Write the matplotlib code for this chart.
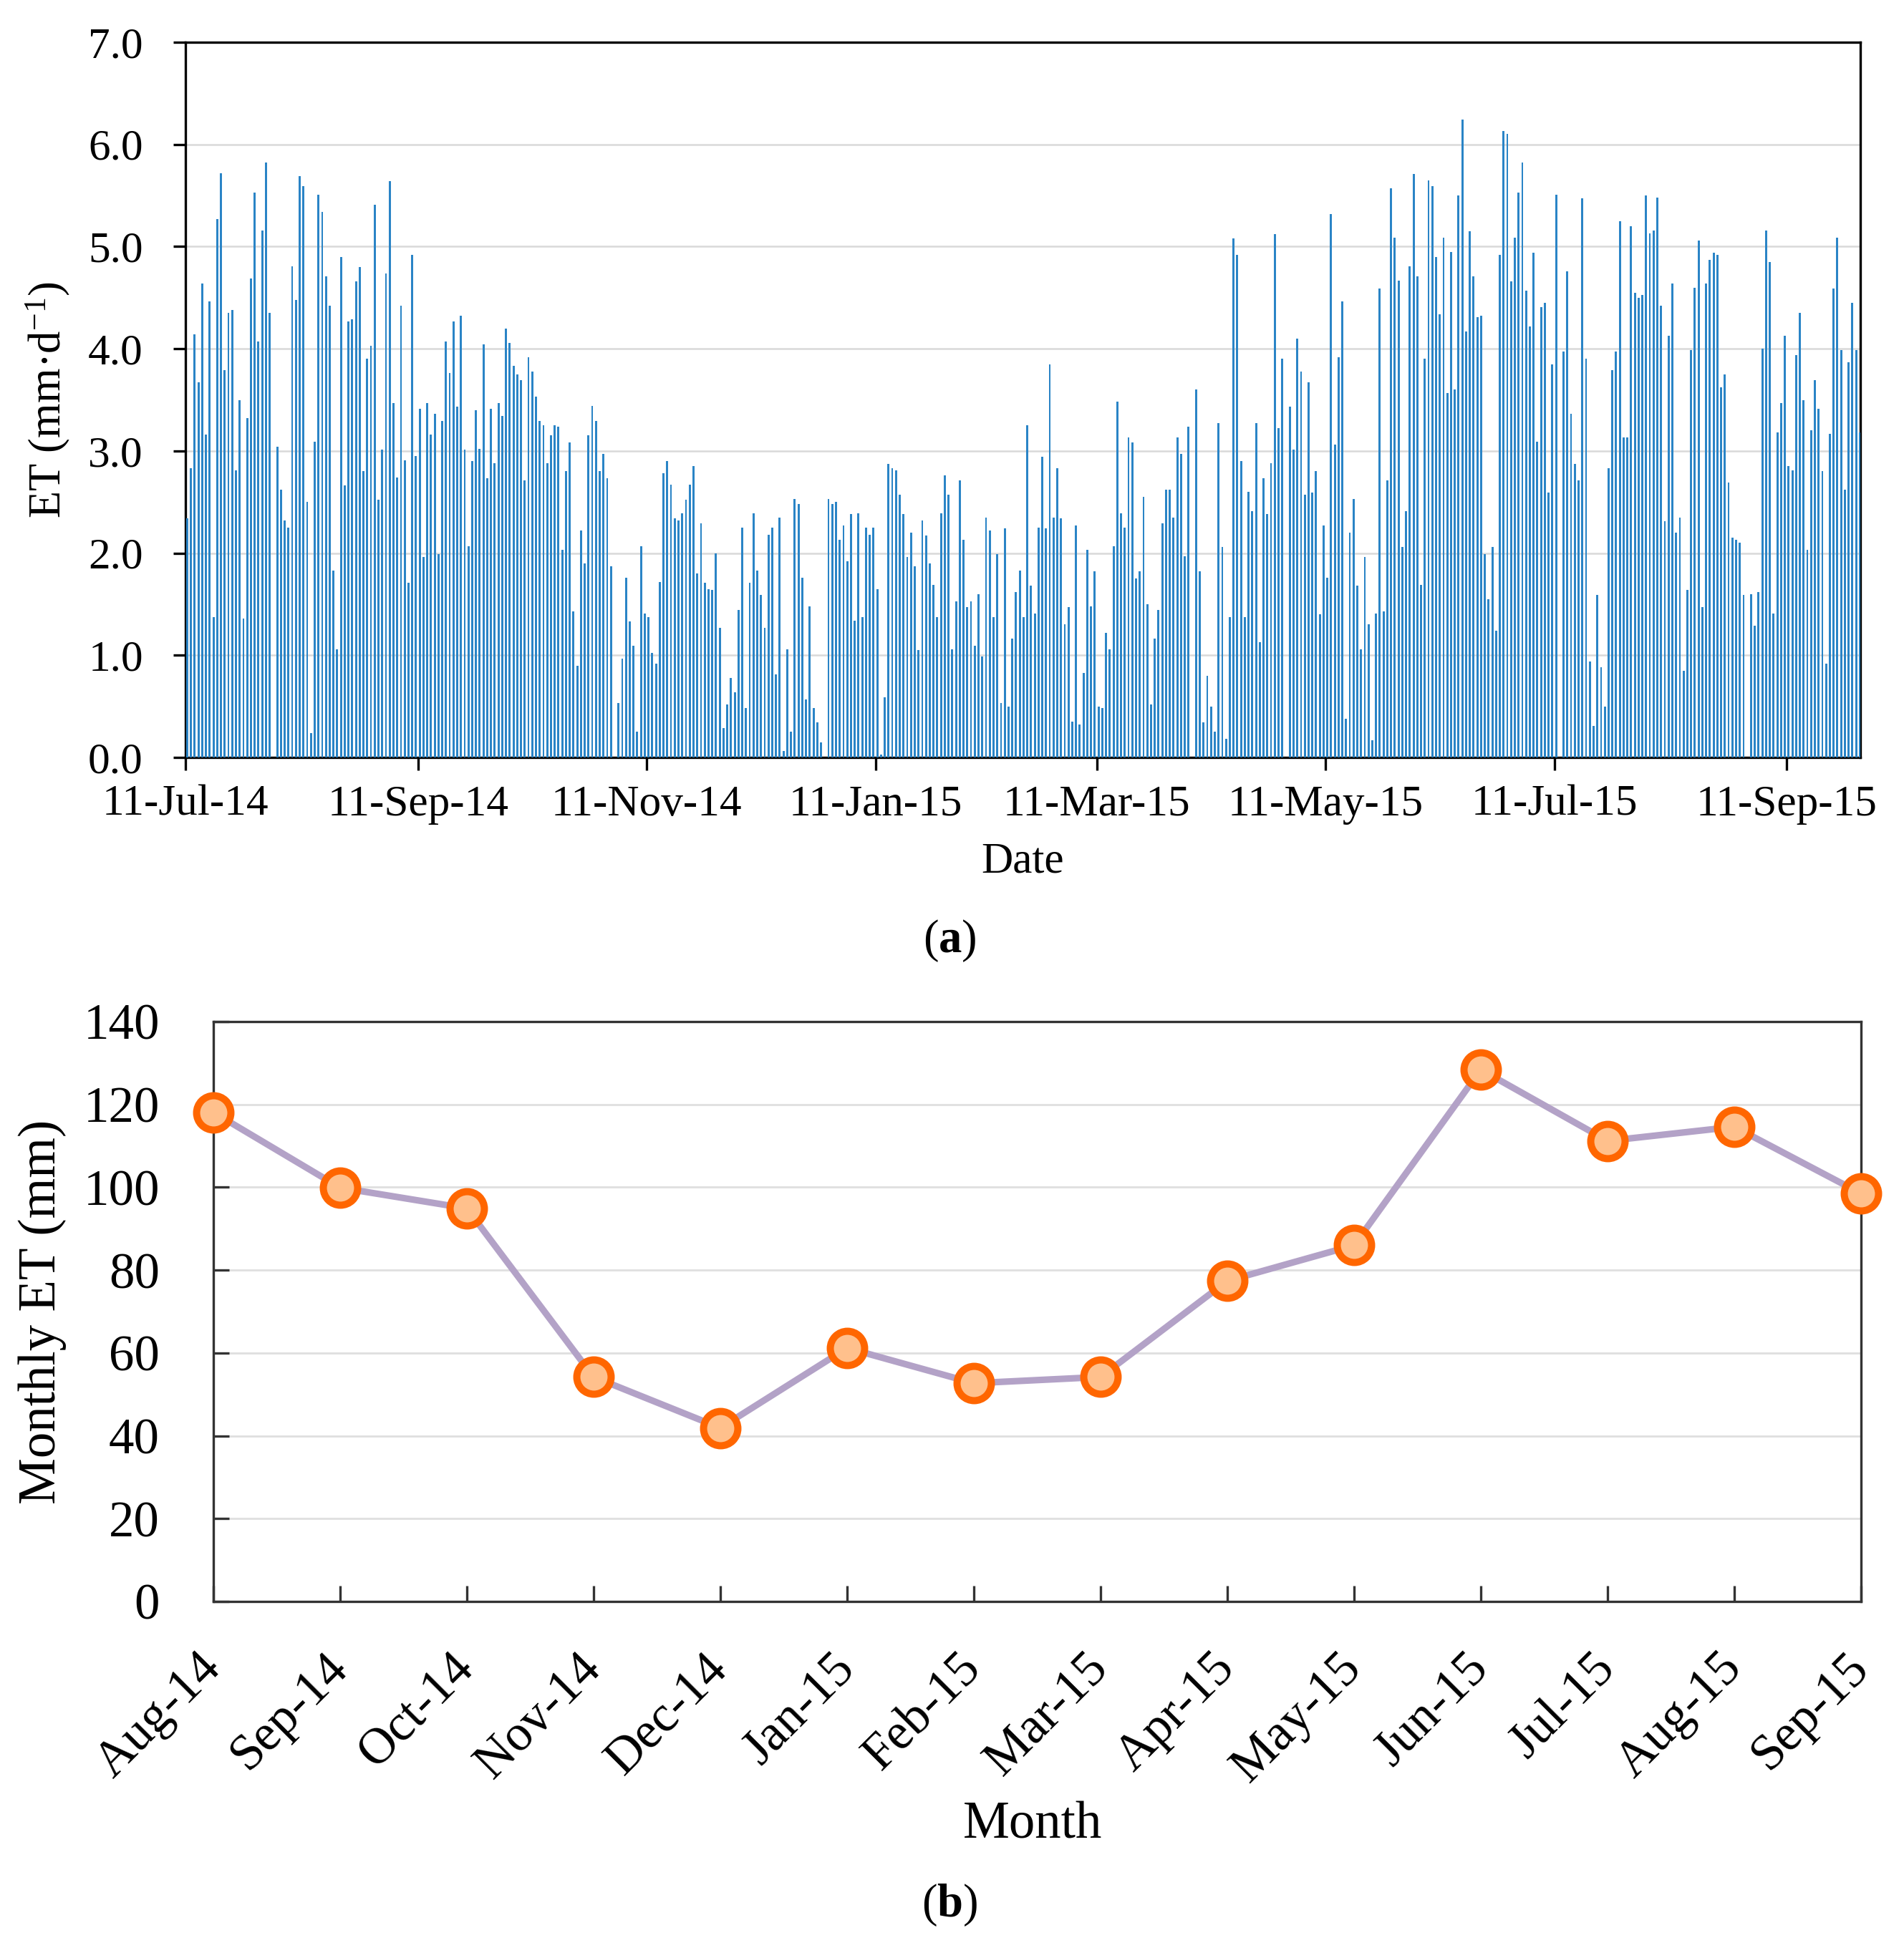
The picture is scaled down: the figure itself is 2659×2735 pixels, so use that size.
import numpy as np
import pandas as pd
import matplotlib
matplotlib.use("Agg")
import matplotlib.pyplot as plt
import matplotlib.dates as mdates

plt.rcParams["font.family"] = ["Liberation Serif", "DejaVu Serif"]
plt.rcParams["mathtext.fontset"] = "custom"
plt.rcParams["mathtext.rm"] = "Liberation Serif"
plt.rcParams["mathtext.it"] = "Liberation Serif:italic"
plt.rcParams["mathtext.bf"] = "Liberation Serif:bold"

# daily ET (mm/d), one value per day from 11-Jul-2014 to 30-Sep-2015
start_date = "2014-07-11"
daily_et = [
    # 11-Jul-14 .. 10-Sep-14
    2.34, 2.83, 4.14, 3.67, 4.64, 3.16, 4.46, 1.37, 5.27, 5.72, 3.79, 4.35, 4.38, 2.81, 3.50, 1.36,
    3.32, 4.69, 5.53, 4.07, 5.16, 5.82, 4.35, 0.00, 3.04, 2.62, 2.32, 2.25, 4.81, 4.48, 5.69, 5.59,
    2.50, 0.24, 3.09, 5.51, 5.34, 4.71, 4.42, 1.83, 1.06, 4.90, 2.66, 4.27, 4.29, 4.66, 4.80, 2.80,
    3.90, 4.03, 5.41, 2.52, 3.01, 4.74, 5.64, 3.47, 2.74, 4.42, 2.91, 1.71, 4.92, 2.95,
    # 11-Sep-14 .. 10-Nov-14
    3.41, 1.96, 3.47, 3.16, 3.36, 1.99, 3.29, 4.07, 3.76, 4.27, 3.43, 4.32, 3.01, 2.07, 2.90, 3.40,
    3.02, 4.04, 2.73, 3.41, 2.88, 3.47, 3.34, 4.20, 4.06, 3.83, 3.75, 3.69, 2.71, 3.92, 3.78, 3.53,
    3.29, 3.25, 2.88, 3.15, 3.25, 3.24, 2.03, 2.80, 3.08, 1.43, 0.90, 2.22, 1.90, 3.15, 3.44, 3.29,
    2.80, 2.97, 2.73, 1.87, 0.00, 0.53, 0.97, 1.76, 1.33, 1.09, 0.25, 2.07, 1.41,
    # 11-Nov-14 .. 10-Jan-15
    1.37, 1.02, 0.92, 1.72, 2.78, 2.90, 2.67, 2.34, 2.32, 2.39, 2.52, 2.67, 2.85, 1.80, 2.29, 1.71,
    1.65, 1.64, 2.00, 1.27, 0.29, 0.52, 0.78, 0.64, 1.44, 2.25, 0.48, 1.71, 2.39, 1.83, 1.59, 1.27,
    2.18, 2.25, 0.81, 2.35, 0.06, 1.06, 0.25, 2.53, 2.48, 1.76, 0.57, 1.48, 0.48, 0.34, 0.15, 0.00,
    2.53, 2.48, 2.50, 2.13, 2.27, 1.92, 2.38, 1.34, 2.39, 1.37, 2.25, 2.18, 2.25,
    # 11-Jan-15 .. 10-Mar-15
    1.65, 0.03, 0.59, 2.87, 2.83, 2.81, 2.57, 2.38, 1.96, 2.20, 1.87, 1.05, 2.32, 2.17, 1.90, 1.69,
    1.37, 2.39, 2.76, 2.57, 1.06, 1.53, 2.71, 2.13, 1.47, 1.53, 1.09, 1.60, 0.99, 2.35, 2.22, 1.37,
    1.99, 0.53, 2.24, 0.50, 1.16, 1.62, 1.83, 1.37, 3.25, 1.68, 1.41, 2.25, 2.94, 2.24, 3.85, 2.35,
    2.83, 2.34, 1.30, 1.47, 0.35, 2.27, 0.32, 0.83, 2.03, 1.48, 1.82,
    # 11-Mar-15 .. 10-May-15
    0.50, 0.48, 1.22, 1.06, 2.07, 3.48, 2.39, 2.25, 3.13, 3.08, 1.75, 1.82, 2.55, 1.50, 0.52, 1.16,
    1.44, 2.29, 2.62, 2.62, 2.35, 3.13, 2.97, 1.97, 3.24, 0.00, 3.60, 1.82, 0.34, 0.80, 0.50, 0.25,
    3.27, 2.06, 0.18, 1.37, 5.08, 4.92, 2.90, 1.37, 2.60, 2.41, 3.27, 1.13, 2.73, 2.38, 2.88, 5.12,
    3.22, 3.90, 0.00, 3.43, 3.01, 4.10, 3.78, 2.57, 3.67, 2.59, 2.80, 1.40, 2.27,
    # 11-May-15 .. 10-Jul-15
    1.76, 5.32, 3.06, 3.92, 4.46, 0.38, 2.20, 2.53, 1.68, 1.06, 1.96, 1.30, 0.17, 1.41, 4.59, 1.43,
    2.71, 5.57, 5.09, 4.67, 2.06, 2.41, 4.81, 5.71, 4.71, 1.69, 3.90, 5.65, 5.59, 4.90, 4.34, 5.09,
    3.57, 4.95, 3.60, 5.50, 6.24, 4.17, 5.15, 4.71, 4.31, 4.32, 1.99, 1.55, 2.06, 1.24, 4.92, 6.13,
    6.10, 4.66, 5.09, 5.53, 5.82, 4.57, 4.22, 4.94, 3.09, 4.41, 4.45, 2.59, 3.85,
    # 11-Jul-15 .. 10-Sep-15
    5.51, 0.00, 3.97, 4.76, 3.36, 2.87, 2.71, 5.47, 3.90, 0.94, 0.31, 1.59, 0.88, 0.50, 2.83, 3.79,
    3.97, 5.25, 3.13, 3.13, 5.20, 4.55, 4.50, 4.53, 5.50, 5.13, 5.16, 5.48, 4.42, 2.31, 4.13, 4.64,
    2.20, 2.35, 0.85, 1.64, 3.99, 4.60, 5.06, 1.47, 4.64, 4.87, 4.94, 4.92, 3.62, 3.75, 2.69, 2.15,
    2.13, 2.10, 1.59, 0.00, 1.60, 1.29, 1.62, 4.00, 5.16, 4.85, 1.41, 3.18, 3.47, 4.13,
    # 11-Sep-15 .. 30-Sep-15
    2.85, 2.81, 3.94, 4.35, 3.50, 2.03, 3.20, 3.69, 3.41, 2.80, 0.92, 3.17, 4.59, 5.09, 3.99, 2.62,
    3.87, 4.45, 3.99, 3.18,
]
date_ticks = ["2014-07-11", "2014-09-11", "2014-11-11", "2015-01-11",
              "2015-03-11", "2015-05-11", "2015-07-11", "2015-09-11"]

months = ["Aug-14", "Sep-14", "Oct-14", "Nov-14", "Dec-14", "Jan-15", "Feb-15",
          "Mar-15", "Apr-15", "May-15", "Jun-15", "Jul-15", "Aug-15", "Sep-15"]
monthly_et = [118.1, 99.9, 94.9, 54.2, 41.9, 61.2, 52.7, 54.2, 77.4, 86.0,
              128.4, 111.2, 114.6, 98.5]

W, H = 2659, 2735
fig = plt.figure(figsize=(W / 300, H / 300), dpi=300)

# ---- (a) daily ET bars
ax1 = fig.add_axes([259 / W, 1 - 1058 / H, (2598 - 259) / W, (1058 - 59) / H])
days = pd.date_range(start_date, periods=len(daily_et), freq="D") + pd.Timedelta(hours=11)
ax1.bar(days, daily_et, width=0.55, color="#2A84C6", linewidth=0, zorder=3)
ax1.set_xlim(pd.Timestamp("2014-07-11"), pd.Timestamp("2015-09-30 14:00"))
ax1.set_ylim(0, 7)
ax1.set_yticks(np.arange(0, 7.01, 1.0))
ax1.yaxis.set_major_formatter(matplotlib.ticker.FormatStrFormatter("%.1f"))
ax1.set_xticks(pd.to_datetime(date_ticks))
ax1.xaxis.set_major_formatter(mdates.DateFormatter("%d-%b-%y"))
ax1.grid(axis="y", color="#D9D9D9", linewidth=0.6, zorder=0)
for sp in ax1.spines.values():
    sp.set_linewidth(0.8)
    sp.set_color("black")
ax1.tick_params(axis="both", direction="out", length=4.2, width=0.8, labelsize=14.7)
ax1.tick_params(axis="y", pad=10)
ax1.tick_params(axis="x", pad=5)
ax1.set_xlabel("Date", fontsize=14.7)
ax1.xaxis.set_label_coords(0.5, -0.118)
ax1.set_ylabel("ET (mm·d$^{-1}$)", fontsize=15)
ax1.yaxis.set_label_coords(-0.068, 0.5)

# ---- (b) monthly ET line
ax2 = fig.add_axes([298 / W, 1 - 2237 / H, (2599 - 298) / W, (2237 - 1427) / H])
xpos = np.arange(len(months))
ax2.plot(xpos, monthly_et, color="#B3A2C7", linewidth=2.2, zorder=3,
         marker="o", markersize=11.5, markerfacecolor="#FFC08C",
         markeredgecolor="#FF6600", markeredgewidth=2.4, clip_on=False)
ax2.set_xlim(0, len(months) - 1)
ax2.set_ylim(0, 140)
ax2.set_yticks(np.arange(0, 141, 20))
ax2.set_xticks(xpos)
ax2.set_xticklabels(months, rotation=45, ha="right", va="center", rotation_mode="anchor")
ax2.grid(axis="y", color="#E0E0E0", linewidth=0.7, zorder=0)
for sp in ax2.spines.values():
    sp.set_linewidth(0.8)
    sp.set_color("#333333")
ax2.tick_params(axis="both", direction="in", length=5.3, width=0.8, labelsize=17,
                color="#333333")
ax2.tick_params(axis="y", pad=18)
ax2.tick_params(axis="x", pad=20)
ax2.set_xlabel("Month", fontsize=17.5)
ax2.xaxis.set_label_coords(0.497, -0.345)
ax2.set_ylabel("Monthly ET (mm)", fontsize=17.5)
ax2.yaxis.set_label_coords(-0.089, 0.5)

fig.text(1326 / W, 1 - 1314 / H, r"($\mathbf{a}$)", ha="center", va="center", fontsize=15.5)
fig.text(1326 / W, 1 - 2661 / H, r"($\mathbf{b}$)", ha="center", va="center", fontsize=15.5)

fig.savefig("out.png", dpi=300)
